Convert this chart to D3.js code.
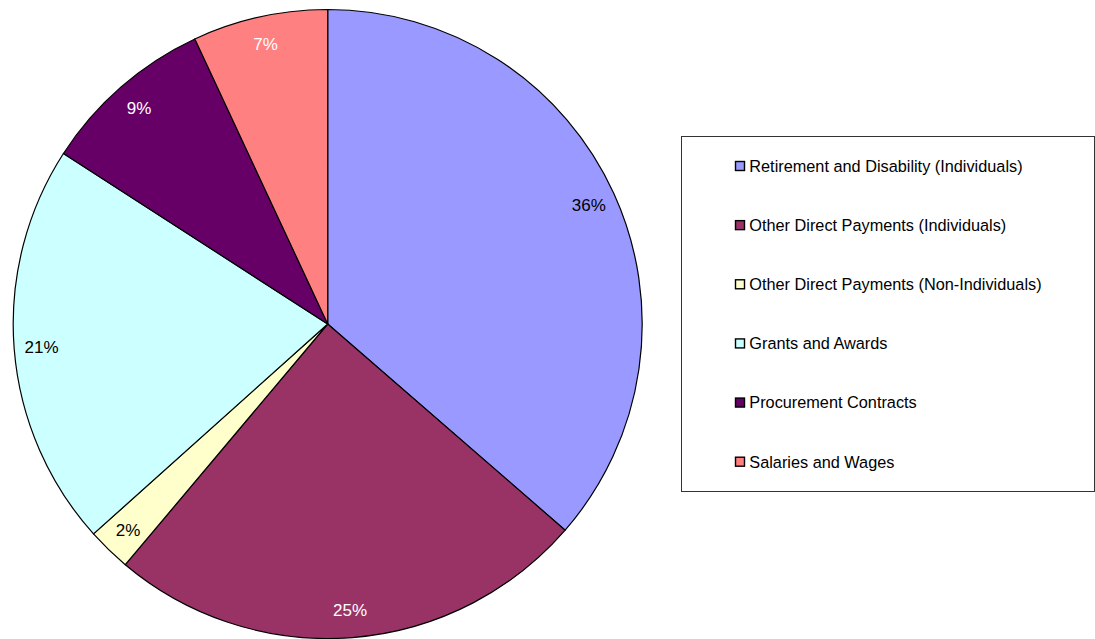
<!DOCTYPE html>
<html>
<head>
<meta charset="utf-8">
<script src="https://cdn.jsdelivr.net/npm/d3@7"></script>
<style>
  html, body { margin: 0; padding: 0; background: #fff; }
  svg { display: block; font-family: "Liberation Sans", Arial, sans-serif; }
</style>
</head>
<body>
<svg id="chart" width="1095" height="639"></svg>
<script>
const categories = [
  "Retirement and Disability (Individuals)",
  "Other Direct Payments (Individuals)",
  "Other Direct Payments (Non-Individuals)",
  "Grants and Awards",
  "Procurement Contracts",
  "Salaries and Wages"
];
const values = [36.38, 24.75, 2.24, 20.75, 8.94, 6.94];
const percentLabels = ["36%", "25%", "2%", "21%", "9%", "7%"];
const colors = ["#9999FF", "#993366", "#FFFFCC", "#CCFFFF", "#660066", "#FF8080"];
const labelColors = ["#000000", "#FFFFFF", "#000000", "#000000", "#FFFFFF", "#FFFFFF"];

const svg = d3.select("#chart");
const cx = 327.7, cy = 324, R = 314.5, labelR = 287;

const data = categories.map((c, i) => ({ name: c, value: values[i], label: percentLabels[i], color: colors[i], tcolor: labelColors[i] }));

const pie = d3.pie().value(d => d.value).sort(null);
const arc = d3.arc().innerRadius(0).outerRadius(R);
const labelArc = d3.arc().innerRadius(labelR).outerRadius(labelR);

const g = svg.append("g").attr("transform", `translate(${cx},${cy})`);
const arcs = pie(data);

g.selectAll("path.slice")
  .data(arcs)
  .join("path")
  .attr("class", "slice")
  .attr("d", arc)
  .attr("fill", d => d.data.color)
  .attr("stroke", "#000")
  .attr("stroke-width", 1.2)
  .attr("stroke-linejoin", "round");

g.selectAll("text.pct")
  .data(arcs)
  .join("text")
  .attr("class", "pct")
  .attr("transform", d => `translate(${labelArc.centroid(d)})`)
  .attr("text-anchor", "middle")
  .attr("dy", "0.36em")
  .attr("font-size", "17px")
  .attr("fill", d => d.data.tcolor)
  .text(d => d.data.label);

// Legend
const lx = 681, ly = 136, lw = 413, lh = 355;
svg.append("rect")
  .attr("x", lx + 0.5).attr("y", ly + 0.5)
  .attr("width", lw).attr("height", lh)
  .attr("fill", "#fff").attr("stroke", "#333").attr("stroke-width", 1);

const rowY = d3.scalePoint().domain(categories).range([166, 461.7]);
const leg = svg.append("g");
const items = leg.selectAll("g.item").data(data).join("g")
  .attr("class", "item")
  .attr("transform", d => `translate(735,${rowY(d.name)})`);
items.append("rect")
  .attr("x", 0.5).attr("y", -4.5)
  .attr("width", 9).attr("height", 9)
  .attr("fill", d => d.color)
  .attr("stroke", "#000").attr("stroke-width", 1.4);
items.append("text")
  .attr("x", 14.3)
  .attr("dy", "0.36em")
  .attr("font-size", "16.3px")
  .attr("fill", "#000")
  .text(d => d.name);
</script>
</body>
</html>
